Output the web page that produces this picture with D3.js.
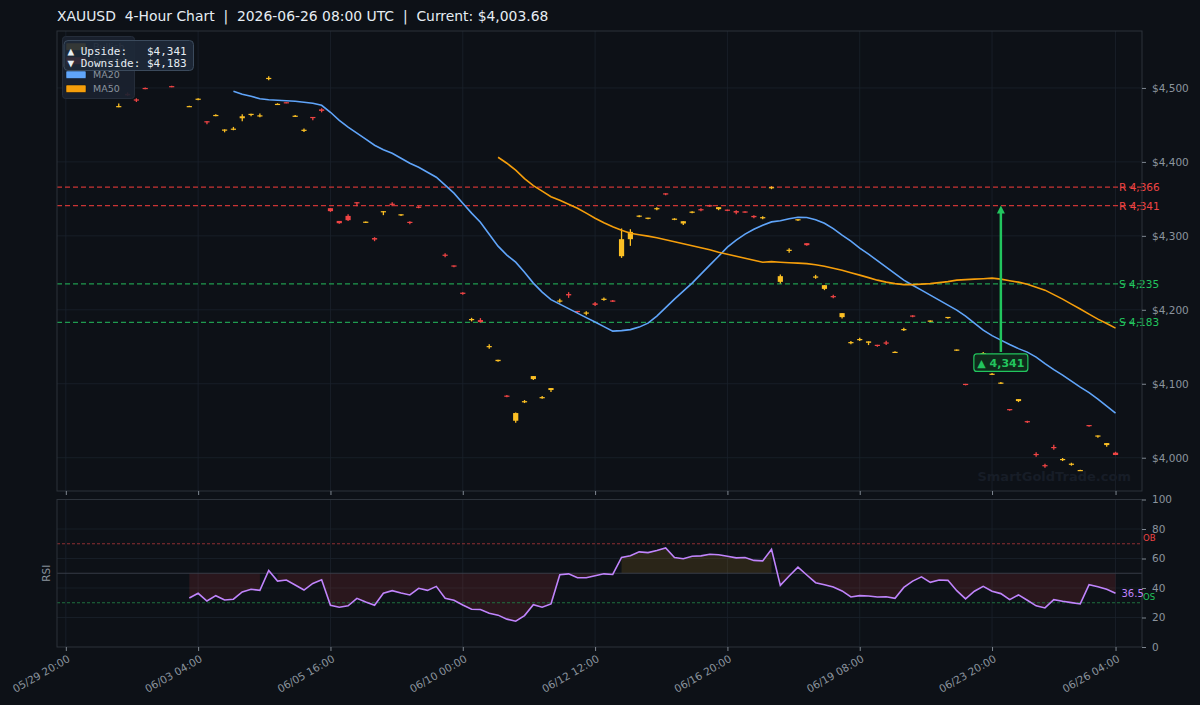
<!DOCTYPE html>
<html>
<head>
<meta charset="utf-8">
<script src="https://cdn.jsdelivr.net/npm/d3@7"></script>
<style>
  html, body { margin: 0; padding: 0; background: #0d1117; }
  svg { display: block; font-family: "DejaVu Sans", sans-serif; }
</style>
</head>
<body>
<div id="chart"></div>
<script>
// ---- data ----
const tickIdx = [0, 15, 30, 45, 60, 75, 90, 105, 119];
const tickLabels = ["05/29 20:00", "06/03 04:00", "06/05 16:00", "06/10 00:00", "06/12 12:00",
                    "06/16 20:00", "06/19 08:00", "06/23 20:00", "06/26 04:00"];

// [open, high, low, close] per 4h bar, null where nothing is visible
const candles = [
  [4528, 4536, 4525, 4532], [4540, 4543, 4533, 4536], [4530, 4538, 4528, 4534], [4538, 4541, 4532, 4535],
  [4526, 4533, 4524, 4530], [4506.5, 4507, 4505.5, 4506], [4474.5, 4479, 4474, 4475.5], [4492, 4494, 4489, 4490],
  [4484.5, 4486, 4481, 4483], [4500, 4500.5, 4498.2, 4499], null, null,
  [4502.5, 4503, 4501, 4501.5], null, [4474.5, 4476, 4474.3, 4475.5], [4484, 4486, 4483.4, 4485.5],
  [4455, 4455, 4451, 4454.2], [4462, 4464.4, 4461.7, 4463.5], [4443, 4444, 4440, 4443.8], [4444, 4447.3, 4442.8, 4445],
  [4459, 4464.4, 4455, 4461.7], [4464.3, 4465, 4461.7, 4465], [4462, 4465.4, 4460.4, 4463], [4512.8, 4515.8, 4510.4, 4513.6],
  [4477.5, 4479.3, 4477, 4478.5], [4480.7, 4480.7, 4479.3, 4479.8], [4461.5, 4463.5, 4460.8, 4462.5], [4442.5, 4445.1, 4440.5, 4443.5],
  [4460.8, 4460.8, 4456.3, 4460], [4471, 4472.5, 4467, 4469], [4337.4, 4337.4, 4332.4, 4333.4], [4320.2, 4320.2, 4316.2, 4317.1],
  [4327, 4329.3, 4320.2, 4321.2], [4345.5, 4345.5, 4340.1, 4344.2], [4318.5, 4319.4, 4317.5, 4319.2], [4297, 4298.2, 4292.8, 4295],
  [4332.2, 4333.4, 4328, 4333.4], [4343.5, 4345.5, 4340.1, 4342.2], [4328.3, 4329.2, 4327, 4329.2], [4319, 4319.8, 4315.8, 4317.5],
  [4339.5, 4340.1, 4337.4, 4338], null, null, [4274.6, 4276.6, 4271.2, 4273.3],
  [4260, 4260, 4257.5, 4259.2], [4223.2, 4223.9, 4220.3, 4221.5], [4186.6, 4189.2, 4184.3, 4187.6], [4186.1, 4188.8, 4182.4, 4183.4],
  [4149.5, 4153.6, 4147.3, 4151], [4130.6, 4132.4, 4129.7, 4132.4], [4084, 4084.7, 4081.6, 4082.5], [4050, 4061.3, 4047.3, 4060.4],
  [4075, 4078, 4073.9, 4076.5], [4106.3, 4110.4, 4105, 4110.4], [4080.8, 4083.3, 4079.7, 4082], [4091.5, 4094.2, 4088.8, 4094.2],
  [4211.6, 4214.8, 4209.4, 4212.6], [4221.3, 4223.9, 4216.2, 4219.5], [4198.5, 4198.5, 4195.5, 4197.5], [4195.4, 4198.2, 4192.8, 4196.4],
  [4208.7, 4210.4, 4205, 4206.7], [4213.5, 4216.5, 4212.4, 4215], [4212.6, 4213.1, 4210.4, 4211], [4272.5, 4310, 4270.2, 4295.5],
  [4295.5, 4309, 4286.5, 4305.4], [4326, 4328, 4325.3, 4327.4], [4323.8, 4324.6, 4322.5, 4324.6], [4336, 4338.8, 4334.7, 4337.5],
  [4357.5, 4357.5, 4355, 4356.6], [4322, 4323.9, 4321.2, 4323.3], [4316.7, 4319.8, 4314.8, 4319.8], [4331.5, 4333.4, 4330.7, 4332.8],
  [4336.1, 4337.4, 4333.4, 4335.1], [4341.4, 4341.9, 4339.2, 4340], [4336.1, 4338.8, 4334.7, 4338.8], [4335.5, 4335.5, 4333.4, 4334.7],
  [4333.5, 4334.7, 4329.3, 4331.5], [4333, 4333.4, 4331.1, 4331.8], [4327, 4328, 4323.9, 4325.2], [4323.8, 4326.6, 4322.5, 4325.3],
  [4364.9, 4367.1, 4363.1, 4365.9], [4237.8, 4247.8, 4235.6, 4245.5], [4280.2, 4283.4, 4277, 4281.2], [4321.7, 4322.5, 4320.2, 4322.5],
  [4290.1, 4290.1, 4286.5, 4287.4], [4244.1, 4247.3, 4241.9, 4245.1], [4228.3, 4233.3, 4226.6, 4233.3], [4218.6, 4220.3, 4215.8, 4217.6],
  [4190.1, 4195.5, 4188.4, 4195.5], [4155.4, 4157.7, 4153.6, 4156.4], [4159, 4162.1, 4157.7, 4160.5], [4155.4, 4157.3, 4152.3, 4157.3],
  [4152.7, 4152.7, 4150, 4151.3], [4155.9, 4158.1, 4152.3, 4154.9], [4142, 4143.8, 4141.5, 4143.2], [4172.5, 4175.6, 4171.2, 4174],
  [4192.3, 4192.8, 4190.1, 4191], null, [4184.7, 4185.5, 4183.4, 4185.5], null,
  [4189.6, 4190.4, 4187.8, 4190.4], [4145.5, 4146.3, 4144.2, 4146.3], [4099.9, 4099.9, 4097.8, 4099.1], null,
  [4140, 4142.8, 4139.4, 4141.5], [4112.3, 4114.4, 4111.7, 4113.6], [4100.3, 4102.3, 4099.6, 4101.6], [4065.8, 4065.8, 4063.5, 4065],
  [4076.6, 4079.3, 4075.2, 4079.3], [4049.5, 4050, 4046.9, 4048], [4005.1, 4007.3, 4001.3, 4004.1], [3990, 3991.9, 3986.5, 3988.4],
  [4014.5, 4017.5, 4010.8, 4013.5], [3996.8, 3999.6, 3995.5, 3998.3], [3991, 3993.2, 3989.2, 3992], [3982.5, 3983.8, 3982, 3983.4],
  [4044.2, 4044.2, 4041.9, 4043.4], [4029.3, 4030.1, 4027, 4030.1], [4017.1, 4019.8, 4014.8, 4019.8], [4006.8, 4008.1, 4003.5, 4003.68]
];

const ma20Start = 19;
const ma20 = [
  4495.5, 4491.5, 4488.8, 4485.4, 4484.0, 4483.4, 4482.7, 4482.0, 4480.7, 4479.3,
  4476.6, 4467.1, 4456.3, 4446.9, 4438.8, 4430.7, 4422.5, 4416.5, 4411.7, 4405.0,
  4398.2, 4392.8, 4386.1, 4379.3, 4368.5, 4357.7, 4344.2, 4330.7, 4318.5, 4302.3,
  4286.1, 4273.9, 4264.4, 4250.9, 4236.1, 4223.9, 4213.8, 4207.7, 4201.6, 4195.5,
  4189.4, 4183.4, 4177.3, 4171.2, 4171.9, 4173.2, 4176.6, 4182.0, 4191.5, 4203.0,
  4214.4, 4225.2, 4236.1, 4248.2, 4260.4, 4272.5, 4284.7, 4294.2, 4302.3, 4309.0,
  4314.4, 4318.9, 4320.5, 4323.2, 4325.2, 4324.8, 4321.9, 4317.1, 4309.7, 4300.9,
  4292.8, 4283.4, 4275.2, 4266.5, 4257.7, 4248.9, 4240.1, 4233.3, 4226.6, 4219.8,
  4213.1, 4206.3, 4199.6, 4191.5, 4182.0, 4172.5, 4165.1, 4159.0, 4153.0, 4147.5,
  4142.8, 4136.0, 4127.3, 4119.2, 4111.7, 4103.6, 4095.5, 4088.1, 4079.3, 4069.8,
  4060.4
];

const ma50Start = 49;
const ma50 = [
  4406.3, 4398.2, 4388.8, 4377.3, 4367.8, 4360.4, 4353.0, 4348.2, 4342.8, 4337.4,
  4330.7, 4323.9, 4317.8, 4312.4, 4307.7, 4303.6, 4301.6, 4299.6, 4297.5, 4294.8,
  4292.1, 4289.4, 4286.7, 4284.0, 4281.3, 4277.9, 4275.2, 4272.5, 4269.8, 4267.1,
  4264.4, 4265.1, 4264.4, 4263.7, 4263.1, 4262.4, 4261.0, 4259.0, 4256.3, 4253.6,
  4250.2, 4246.9, 4243.5, 4240.1, 4237.4, 4235.4, 4234.0, 4234.0, 4234.7, 4235.4,
  4236.7, 4238.1, 4240.1, 4240.8, 4241.5, 4242.1, 4242.8, 4241.5, 4239.4, 4237.4,
  4234.7, 4230.6, 4226.6, 4220.5, 4214.4, 4207.7, 4201.0, 4194.2, 4187.4, 4181.4,
  4175.2
];

const rsiStart = 14;
const rsi = [
  33.2, 36.4, 31.2, 34.8, 31.9, 32.4, 37.3, 39.1, 38.4, 51.9,
  44.7, 45.4, 42.0, 38.6, 43.1, 45.6, 28.3, 27.0, 27.9, 33.0,
  30.5, 28.3, 36.4, 38.2, 36.6, 35.3, 39.8, 38.4, 41.1, 33.0,
  31.7, 28.5, 25.6, 25.4, 22.9, 21.6, 18.9, 17.5, 21.3, 28.7,
  27.0, 29.2, 49.0, 49.6, 46.9, 46.9, 48.3, 49.6, 49.2, 60.7,
  61.8, 64.5, 64.0, 65.4, 67.2, 60.7, 59.8, 61.5, 61.8, 62.9,
  62.5, 61.5, 60.4, 60.7, 58.7, 58.4, 66.3, 41.8, 48.1, 54.1,
  48.8, 43.6, 42.2, 40.7, 38.0, 33.9, 34.8, 34.6, 33.9, 34.1,
  33.0, 40.4, 44.7, 47.6, 43.8, 45.4, 45.2, 38.2, 32.6, 37.8,
  41.1, 37.8, 36.2, 32.1, 35.3, 31.7, 27.9, 26.5, 32.1, 31.0,
  30.1, 29.2, 42.2, 40.9, 39.1, 36.5
];

const resistance = [4366, 4341];
const support = [4235, 4183];
const priceTicks = [4000, 4100, 4200, 4300, 4400, 4500];
const rsiTicks = [0, 20, 40, 60, 80, 100];
const targetIdx = 106, targetFrom = 4143, targetPrice = 4341;
const upside = 4341, downside = 4183;

// ---- layout ----
const W = 1200, H = 705;
const left = 57, right = 1142;
const main = { top: 31, bottom: 491 };
const sub = { top: 499.5, bottom: 647 };

const C = {
  bg: "#0d1117", grid: "#1b222c", spine: "#2d333b", tick: "#8b949e",
  bull: "#fbbf24", bear: "#ef4444", ma20: "#60a5fa", ma50: "#f59e0b",
  rsi: "#c084fc", red: "#ef4444", green: "#22c55e"
};

const svg = d3.select("#chart").append("svg")
  .attr("width", W).attr("height", H);
svg.append("rect").attr("width", W).attr("height", H).attr("fill", C.bg);

const x = d3.scaleLinear().domain([-1, 122]).range([left, right]);
const y = d3.scaleLinear().domain([3955, 4577]).range([main.bottom, main.top]);
const yr = d3.scaleLinear().domain([0, 100]).range([sub.bottom, sub.top]);
const fmt = d3.format(",");

// title
svg.append("text")
  .attr("x", 57).attr("y", 21)
  .attr("fill", "#e6edf3").attr("font-size", 13.9)
  .attr("xml:space", "preserve").style("white-space", "pre")
  .text("XAUUSD  4-Hour Chart  |  2026-06-26 08:00 UTC  |  Current: $" + d3.format(",.2f")(candles[119][3]));

// ---- main panel ----
const gm = svg.append("g");
gm.append("defs").append("clipPath").attr("id", "clipMain")
  .append("rect").attr("x", left).attr("y", main.top).attr("width", right - left).attr("height", main.bottom - main.top);

gm.selectAll("line.hgrid").data(priceTicks).enter().append("line")
  .attr("x1", left).attr("x2", right).attr("y1", d => y(d)).attr("y2", d => y(d))
  .attr("stroke", C.grid).attr("stroke-width", 0.8);
gm.selectAll("line.vgrid").data(tickIdx).enter().append("line")
  .attr("x1", d => x(d)).attr("x2", d => x(d)).attr("y1", main.top).attr("y2", main.bottom)
  .attr("stroke", C.grid).attr("stroke-width", 0.8);

// watermark
gm.append("text")
  .attr("x", 1131).attr("y", 481).attr("text-anchor", "end")
  .attr("font-size", 13).attr("font-weight", "bold").attr("fill", "#171d27")
  .text("SmartGoldTrade.com");

// support / resistance
const levels = resistance.map(v => ({ v, t: "R", c: C.red, lc: "#c93434" }))
  .concat(support.map(v => ({ v, t: "S", c: C.green, lc: "#1f9a4f" })));
gm.selectAll("line.lvl").data(levels).enter().append("line")
  .attr("x1", left).attr("x2", right).attr("y1", d => y(d.v)).attr("y2", d => y(d.v))
  .attr("stroke", d => d.lc).attr("stroke-width", 1.2).attr("stroke-dasharray", "5,3");

// candles
const bw = 5.2;
const cg = gm.append("g").attr("clip-path", "url(#clipMain)");
const cd = candles.map((c, i) => c && { i, o: c[0], h: c[1], l: c[2], c: c[3] }).filter(Boolean);
cg.selectAll("line.wick").data(cd).enter().append("line")
  .attr("x1", d => x(d.i)).attr("x2", d => x(d.i))
  .attr("y1", d => y(d.h)).attr("y2", d => y(d.l))
  .attr("stroke", d => d.c >= d.o ? C.bull : C.bear).attr("stroke-width", 1.3);
cg.selectAll("rect.body").data(cd).enter().append("rect")
  .attr("x", d => x(d.i) - bw / 2).attr("width", bw)
  .attr("y", d => y(Math.max(d.o, d.c)))
  .attr("height", d => Math.max(1.2, Math.abs(y(d.o) - y(d.c))))
  .attr("fill", d => d.c >= d.o ? C.bull : C.bear);

// moving averages
const line = d3.line().x(d => x(d[0])).y(d => y(d[1]));
gm.append("path").datum(ma20.map((v, k) => [k + ma20Start, v]))
  .attr("fill", "none").attr("stroke", C.ma20).attr("stroke-width", 1.6).attr("d", line);
gm.append("path").datum(ma50.map((v, k) => [k + ma50Start, v]))
  .attr("fill", "none").attr("stroke", C.ma50).attr("stroke-width", 1.6).attr("d", line);

// level labels
gm.selectAll("text.lvl").data(levels).enter().append("text")
  .attr("x", 1119).attr("y", d => y(d.v) + 4)
  .attr("fill", d => d.c).attr("font-size", 10.5)
  .text(d => d.t + " " + fmt(d.v));

// target arrow
const ax = x(targetIdx);
gm.append("line")
  .attr("x1", ax).attr("x2", ax).attr("y1", y(targetFrom)).attr("y2", y(targetPrice) + 7)
  .attr("stroke", C.green).attr("stroke-width", 2.5);
gm.append("path")
  .attr("d", `M${ax},${y(targetPrice)} L${ax - 4},${y(targetPrice) + 8} L${ax + 4},${y(targetPrice) + 8} Z`)
  .attr("fill", C.green);
const lblY = y(targetFrom) + 2;
gm.append("rect")
  .attr("x", ax - 27).attr("y", lblY).attr("width", 54).attr("height", 17.5).attr("rx", 3)
  .attr("fill", "#0f2a1b").attr("stroke", C.green).attr("stroke-width", 1.2);
gm.append("text")
  .attr("x", ax).attr("y", lblY + 13).attr("text-anchor", "middle")
  .attr("fill", C.green).attr("font-size", 11).attr("font-weight", "bold")
  .text("▲ " + fmt(targetPrice));

// spines + axes
gm.append("rect").attr("x", left).attr("y", main.top).attr("width", right - left).attr("height", main.bottom - main.top)
  .attr("fill", "none").attr("stroke", C.spine).attr("stroke-width", 1);

gm.append("g").attr("transform", `translate(${right},0)`)
  .call(d3.axisRight(y).tickValues(priceTicks).tickSize(4).tickPadding(6).tickFormat(d => "$" + fmt(d)));
gm.append("g").attr("transform", `translate(0,${main.bottom})`)
  .call(d3.axisBottom(x).tickValues(tickIdx).tickSize(4).tickFormat(""));

// legend (partly covered by the upside/downside box, as in the reference)
const lg = gm.append("g");
lg.append("rect").attr("x", 62.5).attr("y", 36.5).attr("width", 72).attr("height", 62).attr("rx", 3)
  .attr("fill", "#1a2230").attr("fill-opacity", 0.92).attr("stroke", "#252d3a");
const legendItems = [
  { t: "Bullish", c: C.bull }, { t: "Bearish", c: C.bear },
  { t: "MA20", c: C.ma20 }, { t: "MA50", c: C.ma50 }
];
legendItems.forEach((d, k) => {
  const ly = 46.5 + k * 14;
  lg.append("rect").attr("x", 66).attr("y", ly - 3.5).attr("width", 20).attr("height", 7.5).attr("rx", 1)
    .attr("fill", d.c).attr("stroke", "#0d1117").attr("stroke-width", 0.5);
  lg.append("text").attr("x", 93).attr("y", ly + 3.3).attr("fill", C.tick).attr("font-size", 9.5).text(d.t);
});

// upside / downside box
const ib = gm.append("g");
ib.append("rect").attr("x", 64).attr("y", 40.5).attr("width", 129.5).attr("height", 30).attr("rx", 4)
  .attr("fill", "#1e2938").attr("fill-opacity", 0.9).attr("stroke", "#3b4a5c").attr("stroke-width", 1);
ib.selectAll("text").data([
  "▲ Upside:   $" + fmt(upside),
  "▼ Downside: $" + fmt(downside)
]).enter().append("text")
  .attr("x", 67.5).attr("y", (d, k) => 54.5 + k * 12)
  .attr("fill", "#e6edf3").attr("font-size", 11)
  .attr("font-family", "'DejaVu Sans Mono', monospace")
  .attr("xml:space", "preserve").style("white-space", "pre")
  .text(d => d);

// ---- RSI panel ----
const gr = svg.append("g");
gr.selectAll("line.hgrid").data([20, 40, 60, 80]).enter().append("line")
  .attr("x1", left).attr("x2", right).attr("y1", d => yr(d)).attr("y2", d => yr(d))
  .attr("stroke", C.grid).attr("stroke-width", 0.8);
gr.selectAll("line.vgrid").data(tickIdx).enter().append("line")
  .attr("x1", d => x(d)).attr("x2", d => x(d)).attr("y1", sub.top).attr("y2", sub.bottom)
  .attr("stroke", C.grid).attr("stroke-width", 0.8);

const rd = rsi.map((v, k) => [k + rsiStart, v]);
gr.append("path").datum(rd)
  .attr("fill", C.red).attr("fill-opacity", 0.13)
  .attr("d", d3.area().defined(d => d[1] < 50).x(d => x(d[0])).y0(d => yr(d[1])).y1(yr(50)));
gr.append("path").datum(rd)
  .attr("fill", C.bull).attr("fill-opacity", 0.12)
  .attr("d", d3.area().defined(d => d[1] >= 50).x(d => x(d[0])).y0(yr(50)).y1(d => yr(d[1])));

gr.append("line").attr("x1", left).attr("x2", right).attr("y1", yr(50)).attr("y2", yr(50))
  .attr("stroke", "#3a414c").attr("stroke-width", 0.9);
gr.append("line").attr("x1", left).attr("x2", right).attr("y1", yr(70)).attr("y2", yr(70))
  .attr("stroke", "#9b3236").attr("stroke-width", 0.9).attr("stroke-dasharray", "3,2");
gr.append("line").attr("x1", left).attr("x2", right).attr("y1", yr(30)).attr("y2", yr(30))
  .attr("stroke", "#1f7a43").attr("stroke-width", 0.9).attr("stroke-dasharray", "3,2");

gr.append("path").datum(rd)
  .attr("fill", "none").attr("stroke", C.rsi).attr("stroke-width", 1.6)
  .attr("d", d3.line().x(d => x(d[0])).y(d => yr(d[1])));

gr.append("rect").attr("x", left).attr("y", sub.top).attr("width", right - left).attr("height", sub.bottom - sub.top)
  .attr("fill", "none").attr("stroke", C.spine).attr("stroke-width", 1);

gr.append("text").attr("x", 1143).attr("y", yr(70) - 2.5).attr("fill", C.red).attr("font-size", 8.5).text("OB");
gr.append("text").attr("x", 1143).attr("y", yr(30) - 2.5).attr("fill", C.green).attr("font-size", 8.5).text("OS");
gr.append("text").attr("x", 1121.5).attr("y", yr(rsi[rsi.length - 1]) + 4)
  .attr("fill", C.rsi).attr("font-size", 10).text(rsi[rsi.length - 1].toFixed(1));

gr.append("g").attr("transform", `translate(${right},0)`)
  .call(d3.axisRight(yr).tickValues(rsiTicks).tickSize(4).tickPadding(6));

const xAxis = gr.append("g").attr("transform", `translate(0,${sub.bottom})`)
  .call(d3.axisBottom(x).tickValues(tickIdx).tickSize(4).tickFormat((d, k) => tickLabels[k]));
xAxis.selectAll("text")
  .attr("x", 0).attr("y", 0).attr("dy", 0)
  .attr("text-anchor", "end")
  .attr("transform", "translate(4.5,14) rotate(-30)");

gr.append("text")
  .attr("transform", `translate(50,${(sub.top + sub.bottom) / 2}) rotate(-90)`)
  .attr("text-anchor", "middle").attr("fill", C.tick).attr("font-size", 10.5).text("RSI");

// axis styling
svg.selectAll(".domain").remove();
svg.selectAll(".tick line").attr("stroke", C.tick).attr("stroke-width", 0.9);
svg.selectAll(".tick text").attr("fill", C.tick).attr("font-size", 10.5).attr("font-family", "DejaVu Sans");
</script>
</body>
</html>
